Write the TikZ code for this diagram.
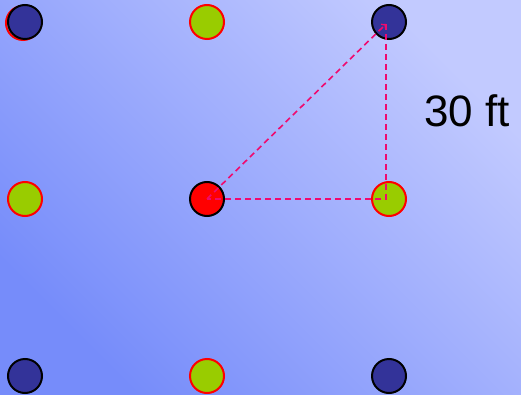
\documentclass[tikz,border=0pt]{standalone}
\usepackage{fontspec}
\setmainfont{Liberation Sans}
\usetikzlibrary{arrows}
\definecolor{dotblue}{RGB}{51,51,153}
\definecolor{dotgreen}{RGB}{153,204,0}
\definecolor{dashpink}{RGB}{240,10,110}
\definecolor{bgdark}{RGB}{118,140,250}
\definecolor{bglight}{RGB}{194,202,255}

\begin{document}
\begin{tikzpicture}[x=1pt, y=-1pt, >=to, node distance=182pt,
  dot/.style={circle, minimum size=34pt, inner sep=0pt, line width=2pt},
  bluedot/.style={dot, draw=black, fill=dotblue},
  greendot/.style={dot, draw=red, fill=dotgreen},
  reddot/.style={dot, draw=black, fill=red},
  dashline/.style={draw=dashpink, line width=1.6pt, dash pattern=on 6pt off 4pt}]
%
\useasboundingbox (0,0) rectangle (521,395);
\shade[bottom color=bgdark, top color=bglight, shading angle=-45] (0,0) rectangle (521,395);
%
\node (NWr) [dot, draw=red] at (23,23) {};
\node (NW) [bluedot] at (25,22) {};
\node (N) [greendot, right of=NW] {};
\node (NE) [bluedot, right of=N] {};
\node (W) [greendot, below of=NW, node distance=177pt] {};
\node (C) [reddot, right of=W] {};
\node (E) [greendot, right of=C] {};
\node (SW) [bluedot, below of=W, node distance=177pt] {};
\node (S) [greendot, right of=SW] {};
\node (SE) [bluedot, right of=S] {};
%
\coordinate (tip) at (386,24);
\coordinate (corner) at (386,199);
\draw[dashline, ->] (C.center) -- (tip);
\draw[dashline] (tip) -- (corner) -- (C.center);
%
\node (len) at (467,111) {\fontsize{44}{44}\selectfont 30 ft};
\end{tikzpicture}
\end{document}
